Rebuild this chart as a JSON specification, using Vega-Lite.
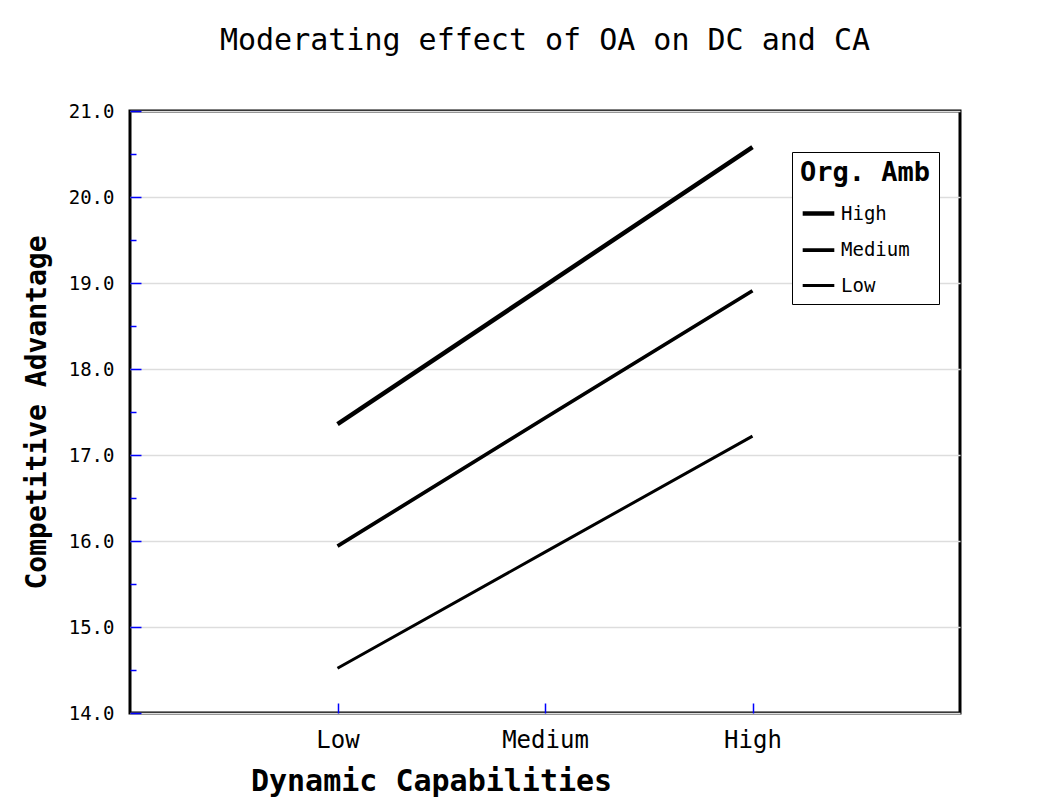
{
  "$schema": "https://vega.github.io/schema/vega-lite/v6.json",
  "width": 830,
  "height": 602,
  "autosize": {"type": "none"},
  "padding": {"left": 130, "top": 111, "right": 104, "bottom": 92},
  "background": "white",
  "title": {
    "text": "Moderating effect of OA on DC and CA",
    "font": "DejaVu Sans Mono",
    "fontSize": 30,
    "fontWeight": "normal",
    "color": "black",
    "offset": 46
  },
  "data": {
    "values": [
      {"dc": "Low", "oa": "High", "ca": 17.36},
      {"dc": "Medium", "oa": "High", "ca": 18.97},
      {"dc": "High", "oa": "High", "ca": 20.58},
      {"dc": "Low", "oa": "Medium", "ca": 15.94},
      {"dc": "Medium", "oa": "Medium", "ca": 17.43},
      {"dc": "High", "oa": "Medium", "ca": 18.91},
      {"dc": "Low", "oa": "Low", "ca": 14.52},
      {"dc": "Medium", "oa": "Low", "ca": 15.87},
      {"dc": "High", "oa": "Low", "ca": 17.22}
    ]
  },
  "mark": {"type": "line", "color": "black", "strokeCap": "butt"},
  "encoding": {
    "x": {
      "field": "dc",
      "type": "ordinal",
      "sort": ["Low", "Medium", "High"],
      "scale": {"type": "point", "padding": 1},
      "axis": {
        "title": "Dynamic Capabilities",
        "labelAngle": 0,
        "domain": false,
        "grid": false,
        "tickSize": -10,
        "tickColor": "#0000ff",
        "tickWidth": 1.5,
        "labelFont": "DejaVu Sans Mono",
        "labelFontSize": 24,
        "labelColor": "black",
        "labelPadding": 25,
        "titleFont": "DejaVu Sans Mono",
        "titleFontSize": 30,
        "titleFontWeight": "bold",
        "titleColor": "black",
        "titleX": 301,
        "titleY": 77,
        "titleAlign": "center",
        "titleBaseline": "alphabetic"
      }
    },
    "y": {
      "field": "ca",
      "type": "quantitative",
      "scale": {"domain": [14, 21], "nice": false, "zero": false},
      "axis": {
        "title": "Competitive Advantage",
        "values": [14, 14.5, 15, 15.5, 16, 16.5, 17, 17.5, 18, 18.5, 19, 19.5, 20, 20.5, 21],
        "labelExpr": "datum.value % 1 === 0 ? format(datum.value, '.1f') : ''",
        "domain": false,
        "grid": true,
        "gridColor": "#dddddd",
        "gridWidth": 1.5,
        "gridOpacity": {"condition": {"test": "datum.value % 1 === 0", "value": 1}, "value": 0},
        "tickSize": {"condition": {"test": "datum.value % 1 === 0", "value": -11}, "value": -6},
        "tickColor": "#0000ff",
        "tickWidth": 1.5,
        "labelFont": "DejaVu Sans Mono",
        "labelFontSize": 19,
        "labelColor": "black",
        "labelPadding": 27,
        "titleFont": "DejaVu Sans Mono",
        "titleFontSize": 28,
        "titleFontWeight": "bold",
        "titleColor": "black",
        "titleX": -93,
        "titleY": 301,
        "titleAlign": "center",
        "titleBaseline": "middle"
      }
    },
    "strokeWidth": {
      "field": "oa",
      "type": "ordinal",
      "sort": ["High", "Medium", "Low"],
      "scale": {"domain": ["High", "Medium", "Low"], "range": [4.5, 3, 1.5]},
      "legend": {
        "title": "Org. Amb",
        "orient": "none",
        "legendX": 662,
        "legendY": 41,
        "symbolType": "stroke",
        "symbolStrokeColor": "black",
        "symbolSize": 1000,
        "strokeColor": "black",
        "fillColor": "white",
        "padding": 8,
        "rowPadding": 8,
        "labelFont": "DejaVu Sans Mono",
        "labelFontSize": 19,
        "labelColor": "black",
        "titleFont": "DejaVu Sans Mono",
        "titleFontSize": 27,
        "titleFontWeight": "bold",
        "titleColor": "black",
        "titlePadding": 8
      }
    },
    "detail": {"field": "oa"}
  },
  "config": {
    "view": {"stroke": "black", "strokeWidth": 3}
  }
}
